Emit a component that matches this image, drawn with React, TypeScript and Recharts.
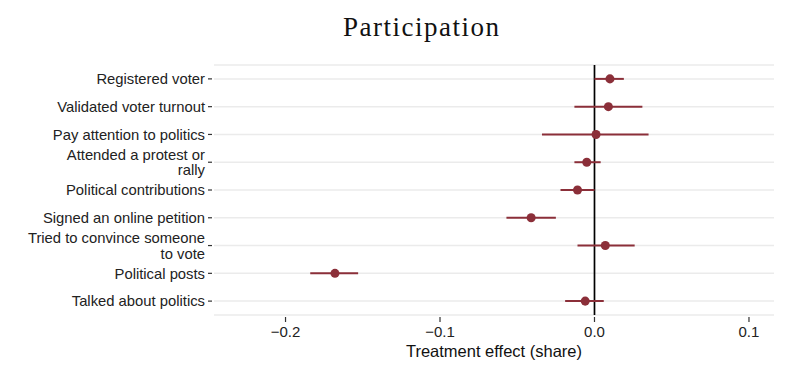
import { ScatterChart, Scatter, XAxis, YAxis, ZAxis, CartesianGrid, ReferenceLine, ErrorBar, Label } from 'recharts';

const categories = [
  'Registered voter',
  'Validated voter turnout',
  'Pay attention to politics',
  'Attended a protest or rally',
  'Political contributions',
  'Signed an online petition',
  'Tried to convince someone to vote',
  'Political posts',
  'Talked about politics',
];

// point estimates and 95% interval ends
const estimates = [0.010, 0.009, 0.001, -0.005, -0.011, -0.041, 0.007, -0.168, -0.006];
const lower = [0.000, -0.013, -0.034, -0.013, -0.022, -0.057, -0.011, -0.184, -0.019];
const upper = [0.019, 0.031, 0.035, 0.004, 0.000, -0.025, 0.026, -0.153, 0.006];

const xTicks = [-0.2, -0.1, 0, 0.1];

const font = '"Liberation Sans", Arial, sans-serif';
const pointColor = '#8b2f39';

// greedy wrap like str_wrap(width = 25)
function wrap(text: string, width = 25) {
  const lines: string[] = [];
  let cur = '';
  text.split(' ').forEach(w => {
    if (cur && (cur + ' ' + w).length > width) {
      lines.push(cur);
      cur = w;
    } else {
      cur = cur ? cur + ' ' + w : w;
    }
  });
  if (cur) lines.push(cur);
  return lines;
}

const chartData = categories.map((name, i) => ({
  name,
  row: i,
  est: estimates[i],
  err: [estimates[i] - lower[i], upper[i] - estimates[i]],
}));

const fmt = (v: number) => v.toFixed(1).replace('-', '\u2212');

const XTick = ({ x, y, payload }: any) => (
  <g>
    <line x1={x} x2={x} y1={y + 2} y2={y + 7} stroke="#333" strokeWidth={1.2} />
    <text x={x} y={y + 22} textAnchor="middle" fontSize={15} fontFamily={font} fill="#222">
      {fmt(payload.value)}
    </text>
  </g>
);

const YTick = ({ x, y, payload }: any) => {
  const lines = wrap(categories[payload.value] ?? '');
  const lh = 15.5;
  const first = y + 5.2 - ((lines.length - 1) * lh) / 2;
  return (
    <g>
      <line x1={x - 6} x2={x - 2} y1={y} y2={y} stroke="#333" strokeWidth={1.2} />
      {lines.map((l, k) => (
        <text key={k} x={x - 9} y={first + k * lh} textAnchor="end" fontSize={14.8} fontFamily={font} fill="#222">
          {l}
        </text>
      ))}
    </g>
  );
};

export default function App() {
  return (
    <div style={{ position: 'absolute', left: 0, top: 0, width: 810, height: 379, background: '#fff' }}>
      <svg width={810} height={50} style={{ position: 'absolute', left: 0, top: 0 }}>
        <text
          x={421}
          y={36}
          textAnchor="middle"
          fontSize={27}
          fontFamily='"Liberation Serif", "Times New Roman", serif'
          fill="#111"
          textLength={156}
          lengthAdjust="spacing"
        >
          Participation
        </text>
      </svg>
      <ScatterChart
        width={810}
        height={379}
        margin={{ top: 65, right: 36, bottom: 34, left: 0 }}
        style={{ position: 'absolute', left: 0, top: 0 }}
      >
        <CartesianGrid horizontal vertical={false} stroke="#ebebeb" strokeWidth={1.5} />
        <XAxis
          type="number"
          dataKey="est"
          domain={[-0.2463, 0.1162]}
          ticks={xTicks}
          allowDataOverflow
          axisLine={false}
          tickLine={false}
          tickSize={0}
          tickMargin={0}
          height={30}
          tick={<XTick />}
        >
          <Label
            value="Treatment effect (share)"
            position="bottom"
            offset={0}
            fontSize={16.5}
            fontFamily={font}
            fill="#111"
          />
        </XAxis>
        <YAxis
          type="number"
          dataKey="row"
          domain={[-0.5, 8.5]}
          ticks={categories.map((_, i) => i)}
          reversed
          allowDataOverflow
          axisLine={false}
          tickLine={false}
          tickSize={0}
          tickMargin={0}
          width={214}
          interval={0}
          tick={<YTick />}
        />
        <ZAxis range={[45, 45]} />
        <ReferenceLine x={0} stroke="#000" strokeWidth={1.7} />
        <Scatter data={chartData} fill={pointColor} isAnimationActive={false}>
          <ErrorBar dataKey="err" direction="x" width={0} stroke={pointColor} strokeWidth={2} />
        </Scatter>
      </ScatterChart>
    </div>
  );
}
